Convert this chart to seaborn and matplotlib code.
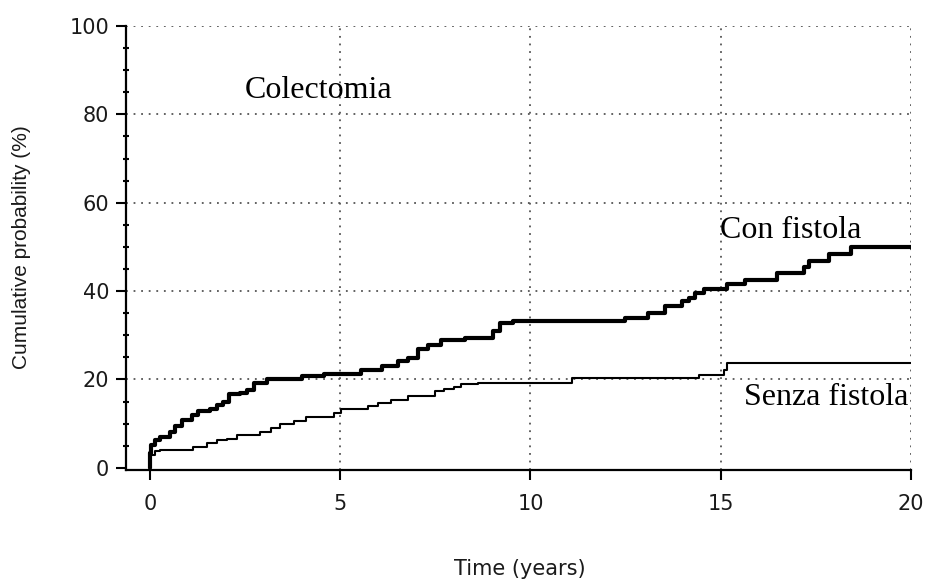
import matplotlib
matplotlib.use("Agg")
import matplotlib.pyplot as plt
import seaborn as sns
import pandas as pd
from matplotlib.ticker import FixedLocator

# ---- data ----
con_time = [0.0, 0.01, 0.04, 0.13, 0.26, 0.53, 0.66, 0.84, 1.10, 1.27, 1.58, 1.76, 1.93,
            2.07, 2.37, 2.55, 2.73, 3.08, 4.00, 4.57, 5.54, 6.11, 6.51, 6.77, 7.04,
            7.30, 7.65, 8.27, 9.02, 9.19, 9.55, 12.49, 13.10, 13.54, 13.98, 14.16,
            14.33, 14.55, 15.17, 15.65, 16.49, 17.19, 17.33, 17.85, 18.42, 20.0]
con_prob = [0.0, 3.3, 5.2, 6.3, 7.0, 8.2, 9.4, 10.9, 12.0, 12.8, 13.2, 14.3, 15.0,
            16.6, 16.9, 17.7, 19.2, 20.1, 20.7, 21.3, 22.1, 23.0, 24.1, 24.9, 26.8,
            27.9, 29.0, 29.4, 30.9, 32.8, 33.2, 33.9, 35.1, 36.6, 37.7, 38.5,
            39.5, 40.4, 41.5, 42.6, 44.0, 45.5, 46.8, 48.5, 50.0, 50.0]

senza_time = [0.0, 0.01, 0.13, 0.26, 1.14, 1.50, 1.76, 2.02, 2.29, 2.90, 3.17, 3.43,
              3.78, 4.09, 4.84, 5.01, 5.72, 5.98, 6.33, 6.77, 7.48, 7.74, 8.00, 8.18,
              8.62, 11.08, 14.42, 15.08, 15.17, 20.0]
senza_prob = [0.0, 2.9, 3.7, 4.1, 4.8, 5.6, 6.3, 6.5, 7.5, 8.2, 9.0, 9.8,
              10.5, 11.6, 12.4, 13.2, 13.9, 14.7, 15.4, 16.2, 17.3, 17.8, 18.4, 19.0,
              19.3, 20.4, 20.9, 22.2, 23.7, 23.7]

series_names = ["Con fistola", "Senza fistola"]
group_label = "Colectomia"
x_ticks = [0, 5, 10, 15, 20]
y_ticks = [0, 20, 40, 60, 80, 100]
y_minor = [5, 10, 15, 25, 30, 35, 45, 50, 55, 65, 70, 75, 85, 90, 95]
x_label = "Time (years)"
y_label = "Cumulative probability (%)"

# ---- plot ----
sns.set_theme(style="white")
plt.rcParams["font.family"] = ["DejaVu Sans"]

W, H = 926, 583
fig = plt.figure(figsize=(W / 100, H / 100), dpi=100)
ax = fig.add_axes([126 / W, (H - 470) / H, 785 / W, 444 / H])

df_con = pd.DataFrame({"t": con_time, "p": con_prob})
df_sen = pd.DataFrame({"t": senza_time, "p": senza_prob})

ax.set_xlim(-0.63, 20.0)
ax.set_ylim(-0.5, 100)

# dotted grid
grid_kw = dict(color="#555555", linestyle=(0, (1, 3.2)), linewidth=1.3, zorder=1)
ax.hlines([v for v in y_ticks if v > 0], -0.63, x_ticks[-1], **grid_kw)
ax.vlines([v for v in x_ticks if v > 0], -0.5, y_ticks[-1], **grid_kw)

sns.lineplot(data=df_sen, x="t", y="p", ax=ax, color="black", linewidth=1.5,
             drawstyle="steps-post", estimator=None, sort=False, zorder=3)
sns.lineplot(data=df_con, x="t", y="p", ax=ax, color="black", linewidth=3.0,
             drawstyle="steps-post", estimator=None, sort=False, zorder=4)

ax.set_xlabel("")
ax.set_ylabel("")

for s in ["top", "right"]:
    ax.spines[s].set_visible(False)
for s in ["left", "bottom"]:
    ax.spines[s].set_color("black")
    ax.spines[s].set_linewidth(1.6)

ax.set_xticks(x_ticks)
ax.set_yticks(y_ticks)
ax.yaxis.set_minor_locator(FixedLocator(y_minor))
ax.tick_params(axis="y", which="major", direction="out", length=7, width=1.5,
               color="black", labelsize=15, pad=5, left=True)
ax.tick_params(axis="y", which="minor", direction="inout", length=5, width=1.5,
               color="black", left=True)
ax.tick_params(axis="x", which="major", direction="out", length=7, width=1.5,
               color="black", labelsize=15, pad=10, bottom=True)
for lab in ax.get_xticklabels() + ax.get_yticklabels():
    lab.set_color("#1a1a1a")

# labels
fig.text(520 / W, 1 - 569 / H, x_label, ha="center", va="center",
         fontsize=15, color="#1a1a1a")
fig.text(22 / W, 1 - 247 / H, y_label, ha="center", va="center", rotation=90,
         family=["Liberation Sans", "DejaVu Sans"], fontsize=15, color="#1a1a1a")

serif = ["Liberation Serif", "DejaVu Serif"]
ax.text(2.50, 83.7, group_label, family=serif, fontsize=23, color="black",
        ha="left", va="baseline")
ax.text(14.98, 52.0, series_names[0], family=serif, fontsize=23, color="black",
        ha="left", va="baseline")
ax.text(19.93, 14.2, series_names[1], family=serif, fontsize=23, color="black",
        ha="right", va="baseline")

fig.savefig("out.png", dpi=100)
